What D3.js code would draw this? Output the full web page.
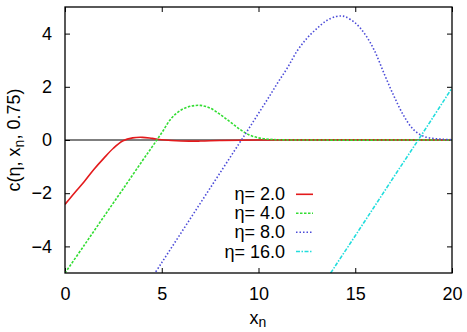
<!DOCTYPE html>
<html><head><meta charset="utf-8">
<script src="https://cdn.jsdelivr.net/npm/d3@7"></script>
<style>body{margin:0;background:#fff}svg{display:block}text{font-family:"Liberation Sans",Arial,sans-serif}</style>
</head><body><svg id="c" width="467" height="332"></svg>
<script>
const xTicks = [0,5,10,15,20];
const yTicks = [-4,-2,0,2,4];
const redX = [0,0.5,1,1.5,2,2.5,3,3.5,4,4.5,5,6,7,8,10,20];
const redY = [-2.42,-1.98,-1.56,-1.1,-0.69,-0.31,-0.03,0.08,0.1,0.06,0.01,-0.04,-0.04,-0.02,0,0];
const greenX = [0,1,2,3,4,4.5,5,5.5,6,6.5,7,7.5,8,8.5,9,9.5,10,10.5,11,12,20];
const greenY = [-5,-3.95,-2.89,-1.84,-0.78,-0.26,0.27,0.82,1.13,1.27,1.3,1.2,0.97,0.7,0.42,0.2,0.08,0.03,0.01,0,0];
const blueX = [4,5,6,7,8,9,9.5,10,10.5,11,11.5,12,12.5,13,13.5,14,14.3,14.5,15,15.5,16,16.5,17,17.5,18,18.5,19,19.5,20];
const blueY = [-5.73,-4.61,-3.49,-2.37,-1.25,-0.13,0.43,1.0,1.57,2.16,2.72,3.35,3.82,4.18,4.48,4.64,4.66,4.63,4.4,3.98,3.35,2.48,1.65,0.92,0.4,0.15,0.06,0.03,0.01];
const cyanX = [13,14,15,16,17,18,19,20];
const cyanY = [-5.81,-4.70,-3.60,-2.49,-1.38,-0.28,0.83,1.96];
const labels = ["η= 2.0","η= 4.0","η= 8.0","η= 16.0"];

const series = [
  {x:redX, y:redY, color:"#e31a1c", dash:null},
  {x:greenX, y:greenY, color:"#33dd33", dash:"2.5,1.5"},
  {x:blueX, y:blueY, color:"#4b4bd8", dash:"1.5,2"},
  {x:cyanX, y:cyanY, color:"#22dddd", dash:"4,1.5,1.5,1.5"}
];

const L=65, R=452, T=7, B=273;
const x = d3.scaleLinear().domain([0,20]).range([L,R]);
const y = d3.scaleLinear().domain([-5,5]).range([B,T]);
const svg = d3.select("#c");

svg.append("defs").append("clipPath").attr("id","clip")
  .append("rect").attr("x",L).attr("y",T).attr("width",R-L).attr("height",B-T);

// zero line
svg.append("line").attr("x1",L).attr("x2",R).attr("y1",y(0)).attr("y2",y(0))
  .attr("stroke","#000").attr("stroke-width",1.2);

const fs = 18;
const axB = svg.append("g").attr("transform",`translate(0,${B})`)
  .call(d3.axisBottom(x).tickValues(xTicks).tickSize(-5).tickPadding(14).tickFormat(d3.format("d")));
const axT = svg.append("g").attr("transform",`translate(0,${T})`)
  .call(d3.axisTop(x).tickValues(xTicks).tickSize(-5).tickFormat(""));
const axL = svg.append("g").attr("transform",`translate(${L},0)`)
  .call(d3.axisLeft(y).tickValues(yTicks).tickSize(-5).tickPadding(13).tickFormat(d3.format("d")));
const axR = svg.append("g").attr("transform",`translate(${R},0)`)
  .call(d3.axisRight(y).tickValues(yTicks).tickSize(-5).tickFormat(""));
[axB,axT,axL,axR].forEach(a=>{
  a.select(".domain").remove();
  a.selectAll("line").attr("stroke","#000").attr("stroke-width",1);
  a.selectAll("text").attr("font-size",fs).attr("fill","#000").style("font-family","'Liberation Sans',Arial,sans-serif");
});

const line = d3.line().curve(d3.curveCatmullRom.alpha(0.5));
const g = svg.append("g").attr("clip-path","url(#clip)");
series.forEach(s=>{
  const pts = s.x.map((v,i)=>[x(v), y(s.y[i])]);
  const p = g.append("path").attr("d", line(pts)).attr("fill","none")
    .attr("stroke", s.color).attr("stroke-width",1.6);
  if (s.dash) p.attr("stroke-dasharray", s.dash);
});

// frame
svg.append("rect").attr("x",L).attr("y",T).attr("width",R-L).attr("height",B-T)
  .attr("fill","none").attr("stroke","#000").attr("stroke-width",1.3);

// legend
const rowY = [194.3,213.3,232.3,251.5];
series.forEach((s,i)=>{
  svg.append("text").attr("x",285).attr("y",rowY[i]+6).attr("text-anchor","end")
    .attr("font-size",fs).text(labels[i]);
  const l = svg.append("line").attr("x1",296).attr("x2",313).attr("y1",rowY[i]).attr("y2",rowY[i])
    .attr("stroke",s.color).attr("stroke-width",1.6);
  if (s.dash) l.attr("stroke-dasharray", s.dash);
});

// axis labels
const xl = svg.append("text").attr("x",258).attr("y",324).attr("text-anchor","middle").attr("font-size",fs);
xl.append("tspan").text("x");
xl.append("tspan").attr("dy",3).attr("font-size",14).text("n");

const yl = svg.append("text").attr("transform",`translate(20,${(T+B)/2}) rotate(-90)`)
  .attr("text-anchor","middle").attr("font-size",fs);
yl.append("tspan").text("c(η, x");
yl.append("tspan").attr("dy",4).attr("font-size",14).text("n");
yl.append("tspan").attr("dy",-4).text(", 0.75)");
</script></body></html>
